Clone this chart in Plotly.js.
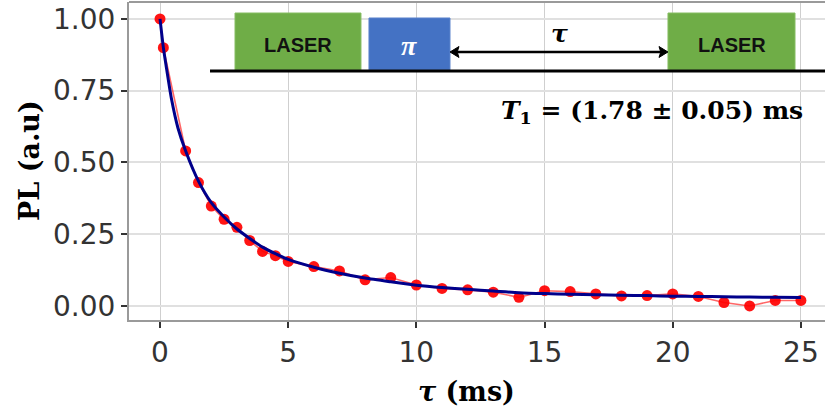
<!DOCTYPE html>
<html>
<head>
<meta charset="utf-8">
<script src="https://cdn.plot.ly/plotly-3.0.1.min.js"></script>
<style>html,body{margin:0;padding:0;background:#fff;}#chart{width:825px;height:413px;}</style>
</head>
<body>
<div id="chart"></div>
<script>
// Measured data
const tau = [0, 0.13, 1, 1.5, 2, 2.5, 3, 3.5, 4, 4.5, 5, 6, 7, 8, 9, 10, 11, 12, 13, 14, 15, 16, 17, 18, 19, 20, 21, 22, 23, 24, 25];
const pl = [1.00, 0.90, 0.54, 0.43, 0.348, 0.302, 0.274, 0.228, 0.19, 0.175, 0.155, 0.137, 0.122, 0.091, 0.099, 0.073, 0.061, 0.056, 0.048, 0.030, 0.053, 0.050, 0.042, 0.035, 0.036, 0.042, 0.033, 0.012, 0.000, 0.019, 0.019];
// Fit curve
const fitTau = [0, 0.13, 0.25, 0.45, 0.7, 1, 1.5, 2, 2.5, 3, 3.5, 4, 4.5, 5, 6, 7, 8, 9, 10, 11, 12, 13, 14, 15, 16, 17, 18, 19, 20, 21, 22, 23, 24, 25];
const fitPL = [1.00, 0.90, 0.83, 0.72, 0.62, 0.54, 0.435, 0.36, 0.31, 0.268, 0.235, 0.205, 0.182, 0.162, 0.135, 0.114, 0.097, 0.084, 0.072, 0.064, 0.058, 0.052, 0.046, 0.043, 0.041, 0.039, 0.037, 0.036, 0.034, 0.033, 0.032, 0.031, 0.030, 0.029];
const xTicks = [0, 5, 10, 15, 20, 25];
const yTicks = [0, 0.25, 0.5, 0.75, 1.0];
const yTickText = ["0.00", "0.25", "0.50", "0.75", "1.00"];

const data = [
  {x: tau, y: pl, type: 'scatter', mode: 'lines+markers',
   line: {color: 'rgba(255,0,0,0.6)', width: 1.6},
   marker: {color: '#ff0000', size: 11, opacity: 0.92}, showlegend: false, hoverinfo: 'none'},
  {x: fitTau, y: fitPL, type: 'scatter', mode: 'lines',
   line: {color: '#00008b', width: 3, shape: 'spline', smoothing: 0.6}, showlegend: false, hoverinfo: 'none'}
];

const serif = 'DejaVu Serif, Liberation Serif, serif';
const boxFont = {family: 'Liberation Sans Narrow, Liberation Sans, Arial, sans-serif', size: 20, color: '#111111', weight: 700};
const layout = {
  width: 825, height: 413,
  margin: {l: 129, r: 0, t: 2, b: 93, pad: 0},
  paper_bgcolor: '#ffffff', plot_bgcolor: '#ffffff',
  xaxis: {range: [-1.21, 25.94], tickvals: xTicks, ticktext: xTicks.map(String),
    showgrid: true, gridcolor: '#cfcfcf', gridwidth: 1, zeroline: false,
    showline: true, linecolor: '#9a9a9a', linewidth: 2,
    ticks: 'outside', ticklen: 6, tickwidth: 2, tickcolor: '#333333',
    tickfont: {family: 'DejaVu Sans, sans-serif', size: 28, color: '#333333'}},
  yaxis: {range: [-0.049, 1.059], tickvals: yTicks, ticktext: yTickText,
    showgrid: true, gridcolor: '#e0e0e0', gridwidth: 2, zeroline: false,
    showline: true, linecolor: '#9a9a9a', linewidth: 2,
    ticks: 'outside', ticklen: 6, tickwidth: 2, tickcolor: '#333333',
    tickfont: {family: 'DejaVu Sans, sans-serif', size: 28, color: '#333333'}},
  shapes: [
    {type: 'line', xref: 'paper', yref: 'paper', x0: 0, x1: 1, y0: 1, y1: 1, line: {color: '#9a9a9a', width: 2}},
    {type: 'rect', xref: 'paper', yref: 'paper', x0: 0.1523, x1: 0.3333, y0: 0.7862, y1: 0.9654, fillcolor: '#6fad47', line: {color: '#86bd62', width: 1}},
    {type: 'rect', xref: 'paper', yref: 'paper', x0: 0.3448, x1: 0.4612, y0: 0.7862, y1: 0.9497, fillcolor: '#4472c4', line: {color: '#5a82cc', width: 1}},
    {type: 'rect', xref: 'paper', yref: 'paper', x0: 0.7744, x1: 0.9569, y0: 0.7862, y1: 0.9654, fillcolor: '#6fad47', line: {color: '#86bd62', width: 1}},
    {type: 'line', xref: 'paper', yref: 'paper', x0: 0.1164, x1: 1.0, y0: 0.7830, y1: 0.7830, line: {color: '#000000', width: 3}},
    // double-headed arrow for tau
    {type: 'line', xref: 'paper', yref: 'paper', x0: 0.4700, x1: 0.7660, y0: 0.8428, y1: 0.8428, line: {color: '#000000', width: 2.5}},
    {type: 'path', xref: 'paper', yref: 'paper', path: 'M 0.7744 0.8428 L 0.7615 0.8600 L 0.7640 0.8428 L 0.7615 0.8256 Z', fillcolor: '#000000', line: {color: '#000000', width: 1}},
    {type: 'path', xref: 'paper', yref: 'paper', path: 'M 0.4612 0.8428 L 0.4741 0.8600 L 0.4716 0.8428 L 0.4741 0.8256 Z', fillcolor: '#000000', line: {color: '#000000', width: 1}}
  ],
  annotations: [
    {xref: 'paper', yref: 'paper', x: -0.1437, y: 0.503, text: '<b>PL (a.u)</b>', textangle: -90,
     showarrow: false, xanchor: 'center', yanchor: 'middle', font: {family: serif, size: 27, color: '#000'}},
    {xref: 'paper', yref: 'paper', x: 0.4842, y: -0.2233, text: '<b><i>τ</i> (ms)</b>',
     showarrow: false, xanchor: 'center', yanchor: 'middle', font: {family: serif, size: 27, color: '#000'}},
    {xref: 'paper', yref: 'paper', x: 0.2428, y: 0.864, text: '<b>LASER</b>', showarrow: false,
     xanchor: 'center', yanchor: 'middle', font: boxFont},
    {xref: 'paper', yref: 'paper', x: 0.8657, y: 0.864, text: '<b>LASER</b>', showarrow: false,
     xanchor: 'center', yanchor: 'middle', font: boxFont},
    {xref: 'paper', yref: 'paper', x: 0.4030, y: 0.862, text: '<b><i>π</i></b>', showarrow: false,
     xanchor: 'center', yanchor: 'middle', font: {family: 'Liberation Serif, serif', size: 28, color: '#ffffff'}},
    {xref: 'paper', yref: 'paper', x: 0.6190, y: 0.900, text: '<b><i>τ</i></b>', showarrow: false,
     xanchor: 'center', yanchor: 'middle', font: {family: serif, size: 25, color: '#000'}},
    {xref: 'paper', yref: 'paper', x: 0.9713, y: 0.655, text: '<b><i>T</i><sub>1</sub> = (1.78 ± 0.05) ms</b>',
     showarrow: false, xanchor: 'right', yanchor: 'middle', font: {family: serif, size: 25, color: '#000'}}
  ]
};

Plotly.newPlot('chart', data, layout, {staticPlot: true, displayModeBar: false});
</script>
</body>
</html>
